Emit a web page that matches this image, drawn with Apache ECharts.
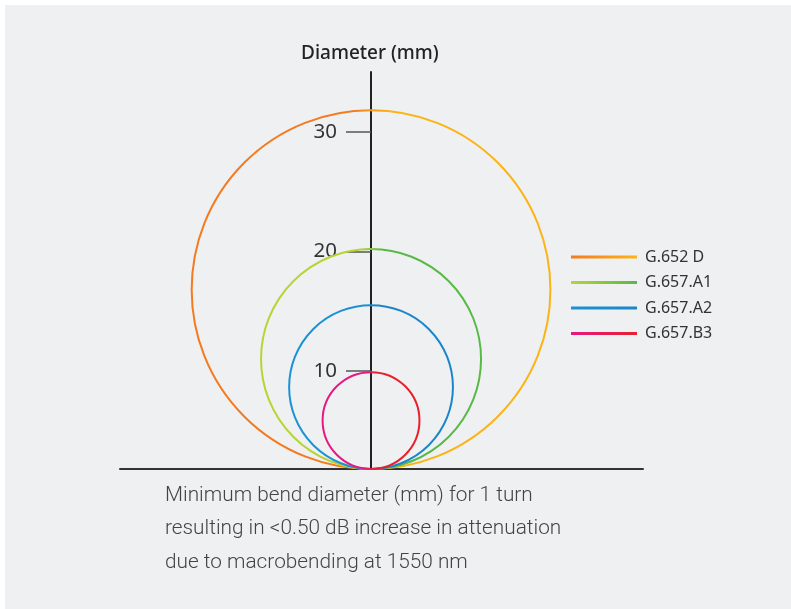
<!DOCTYPE html>
<html>
<head>
<meta charset="utf-8">
<script src="https://cdn.jsdelivr.net/npm/echarts@6/dist/echarts.min.js"></script>
<style>
html,body{margin:0;padding:0;background:#ffffff;}
#chart{position:absolute;left:5px;top:5px;width:786px;height:604px;}
</style>
</head>
<body>
<div id="chart"></div>
<script>
// Data
var fibreTypes = ['G.652 D', 'G.657.A1', 'G.657.A2', 'G.657.B3'];
var bendDiameters = [30, 18.4, 13.7, 8.1];   // circle diameters in axis units (mm)
var baseline = 1.8;                           // where the circles rest on the y scale
var yTickValues = [10, 20, 30];
var yRange = [1.8, 35];
var xRange = [-21, 22.75];
var titleText = 'Diameter (mm)';
var noteLines = [
  'Minimum bend diameter (mm) for 1 turn',
  'resulting in <0.50 dB increase in attenuation',
  'due to macrobending at 1550 nm'
];
var colorStops = [
  ['#f47a20', '#fbb416'],
  ['#b7d434', '#58b947'],
  ['#1b92d3', '#1a86c9'],
  ['#e5197f', '#e8202c']
];

var chart = echarts.init(document.getElementById('chart'), null, {renderer: 'canvas'});

function grad(i) {
  return new echarts.graphic.LinearGradient(0, 0, 1, 0, [
    {offset: 0, color: colorStops[i][0]},
    {offset: 0.45, color: colorStops[i][0]},
    {offset: 0.55, color: colorStops[i][1]},
    {offset: 1, color: colorStops[i][1]}
  ]);
}
function legendGrad(i) {
  return new echarts.graphic.LinearGradient(0, 0, 1, 0, [
    {offset: 0, color: colorStops[i][0]},
    {offset: 1, color: colorStops[i][1]}
  ]);
}

var series = fibreTypes.map(function (name, i) {
  return {
    type: 'custom',
    name: name,
    coordinateSystem: 'cartesian2d',
    clip: false,
    z: 3,
    itemStyle: {color: legendGrad(i)},
    data: [[0, bendDiameters[i]]],
    encode: {x: 0, y: 1},
    renderItem: function (params, api) {
      var d = api.value(1);
      var c = api.coord([0, baseline + d / 2]);
      var r = api.size([0, d / 2])[1];
      return {
        type: 'circle',
        shape: {cx: c[0], cy: c[1], r: r},
        style: {fill: 'none', stroke: grad(i), lineWidth: 2}
      };
    }
  };
});

var option = {
  backgroundColor: '#eff0f2',
  animation: false,
  title: {
    text: titleText,
    left: 291,
    top: 34,
    textStyle: {fontFamily: 'Noto Sans', fontSize: 19, fontWeight: 500, color: '#222222'}
  },
  legend: {
    orient: 'vertical',
    left: 566,
    top: 242,
    padding: 0,
    icon: 'rect',
    itemWidth: 66,
    itemHeight: 3,
    itemGap: 5.5,
    data: fibreTypes,
    textStyle: {fontFamily: 'Noto Sans', fontSize: 16, color: '#333333', lineHeight: 20, padding: [0, 0, 0, 3]}
  },
  grid: {left: 115, right: 148, top: 67, bottom: 140, containLabel: false},
  xAxis: {
    type: 'value',
    min: xRange[0],
    max: xRange[1],
    axisLine: {show: true, onZero: false, lineStyle: {color: '#333333', width: 2}},
    axisTick: {show: false},
    axisLabel: {show: false},
    splitLine: {show: false}
  },
  yAxis: {
    type: 'value',
    min: yRange[0],
    max: yRange[1],
    offset: -251,
    axisLine: {show: true, onZero: false, lineStyle: {color: '#222222', width: 2}},
    axisTick: {show: true, customValues: yTickValues, length: 25, lineStyle: {color: '#555555', width: 1.5}},
    axisLabel: {show: true, customValues: yTickValues, margin: 34, fontFamily: 'Noto Sans', fontSize: 20.5, color: '#333333'},
    splitLine: {show: false}
  },
  graphic: [{
    type: 'text',
    left: 160,
    top: 474,
    z: 10,
    style: {
      text: noteLines.join('\n'),
      fontFamily: 'Roboto',
      fontWeight: 300,
      fontSize: 20.8,
      lineHeight: 33.5,
      fill: '#444444'
    }
  }],
  series: series
};
chart.setOption(option);
</script>
</body>
</html>
